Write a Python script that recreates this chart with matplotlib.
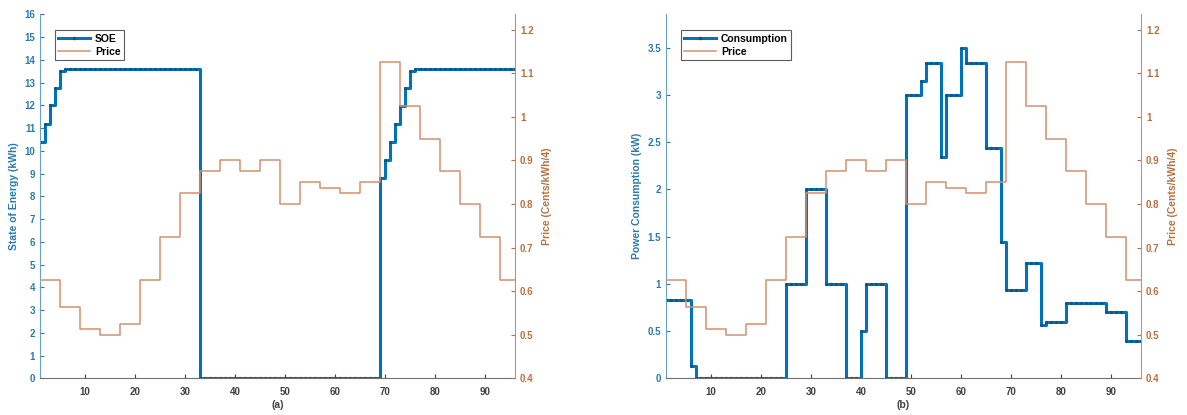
import numpy as np
import matplotlib.pyplot as plt

plt.rcParams['font.family'] = ['Liberation Sans', 'DejaVu Sans']

# time steps (15 min), 1..96
steps = np.arange(1, 97)

# hourly price, each hour covers 4 steps
price_hourly = [0.625, 0.5625, 0.5125, 0.5, 0.525, 0.625, 0.725, 0.825,
                0.875, 0.9, 0.875, 0.9, 0.8, 0.85, 0.8375, 0.825,
                0.85, 1.125, 1.025, 0.95, 0.875, 0.8, 0.725, 0.625]

# state of energy, run-length (level, count)
soe_levels = [10.4, 11.2, 12.0, 12.75, 13.5, 13.6, 0, 8.8, 9.6, 10.4, 11.2, 11.95, 12.75, 13.5, 13.6]
soe_counts = [1, 1, 1, 1, 1, 27, 36, 1, 1, 1, 1, 1, 1, 1, 21]

# power consumption, run-length (level, count)
cons_levels = [0.83, 0.13, 0, 1.0, 2.0, 1.0, 0, 0.5, 1.0, 0, 3.0, 3.15, 3.34, 2.34,
               3.0, 3.5, 3.34, 2.44, 1.44, 0.93, 1.22, 0.56, 0.6, 0.8, 0.7, 0.4]
cons_counts = [5, 1, 18, 4, 4, 4, 3, 1, 4, 4, 3, 1, 3, 1,
               3, 1, 4, 3, 1, 4, 3, 1, 4, 8, 4, 4]

price = np.repeat(price_hourly, 4)
soe = np.repeat(soe_levels, soe_counts)
cons = np.repeat(cons_levels, cons_counts)

blue = '#0072BD'
blue_dark = '#1A4F78'
blue_txt = '#2A7AB0'
orange = '#CF9270'
orange_txt = '#B8703F'
gray = '#404040'


def draw_panel(pos, y, ylabel, name, ylim, yticks, ytlabels, caption):
	ax = fig.add_axes(pos)
	l1, = ax.plot(steps, y, drawstyle='steps-post', color=blue, lw=2.2,
	              marker='.', ms=2.5, mfc=blue_dark, mec=blue_dark, label=name)
	ax.set_xlim(1, 96)
	ax.set_ylim(*ylim)
	ax.set_xticks([10, 20, 30, 40, 50, 60, 70, 80, 90])
	ax.set_yticks(yticks)
	ax.set_yticklabels(ytlabels)
	ax.tick_params(axis='x', direction='in', length=3, labelsize=7, colors=gray, pad=6)
	ax.tick_params(axis='y', direction='in', length=3, labelsize=7, colors=blue_txt)
	for lab in ax.get_xticklabels() + ax.get_yticklabels():
		lab.set_fontweight('bold')
	ax.set_ylabel(ylabel, color=blue_txt, fontsize=7.5, fontweight='bold', labelpad=4)
	ax.spines['top'].set_visible(False)
	ax.spines['right'].set_visible(False)
	ax.spines['left'].set_color('#6AA0C0')
	ax.spines['bottom'].set_color('#707070')

	ax2 = ax.twinx()
	l2, = ax2.plot(steps, price, drawstyle='steps-post', color=orange, lw=1.1, label='Price')
	ax2.set_ylim(0.4, 1.235)
	ax2.set_yticks([0.4, 0.5, 0.6, 0.7, 0.8, 0.9, 1.0, 1.1, 1.2])
	ax2.set_yticklabels(['0.4', '0.5', '0.6', '0.7', '0.8', '0.9', '1', '1.1', '1.2'])
	ax2.tick_params(axis='y', direction='in', length=3, labelsize=7, colors=orange_txt)
	for lab in ax2.get_yticklabels():
		lab.set_fontweight('bold')
	ax2.set_ylabel('Price (Cents/kWh/4)', color=orange_txt, fontsize=7.5, fontweight='bold', labelpad=6)
	ax2.spines['top'].set_visible(False)
	ax2.spines['left'].set_visible(False)
	ax2.spines['bottom'].set_visible(False)
	ax2.spines['right'].set_color('#B89580')

	leg = ax2.legend([l1, l2], [name, 'Price'], loc='upper left', bbox_to_anchor=(0.02, 0.97),
	                 fontsize=7.5, frameon=True, fancybox=False, handlelength=3.0,
	                 borderpad=0.35, labelspacing=0.25, handletextpad=0.5, markerscale=1.2)
	leg.get_frame().set_edgecolor('#333333')
	leg.get_frame().set_linewidth(0.8)
	for t in leg.get_texts():
		t.set_fontweight('bold')
	ax.text(0.5, -0.072, caption, transform=ax.transAxes, ha='center', va='center',
	        fontsize=7.5, fontweight='bold', color=gray)


fig = plt.figure(figsize=(11.87, 4.15), dpi=100)

draw_panel([0.0337, 0.0884, 0.4002, 0.877], soe, 'State of Energy (kWh)', 'SOE',
           (0, 16), list(range(0, 17)), [str(v) for v in range(0, 17)], '(a)')
draw_panel([0.5611, 0.0884, 0.4002, 0.877], cons, 'Power Consumption (kW)', 'Consumption',
           (0, 3.853), [0, 0.5, 1, 1.5, 2, 2.5, 3, 3.5],
           ['0', '0.5', '1', '1.5', '2', '2.5', '3', '3.5'], '(b)')

plt.savefig('out.png', dpi=100)
